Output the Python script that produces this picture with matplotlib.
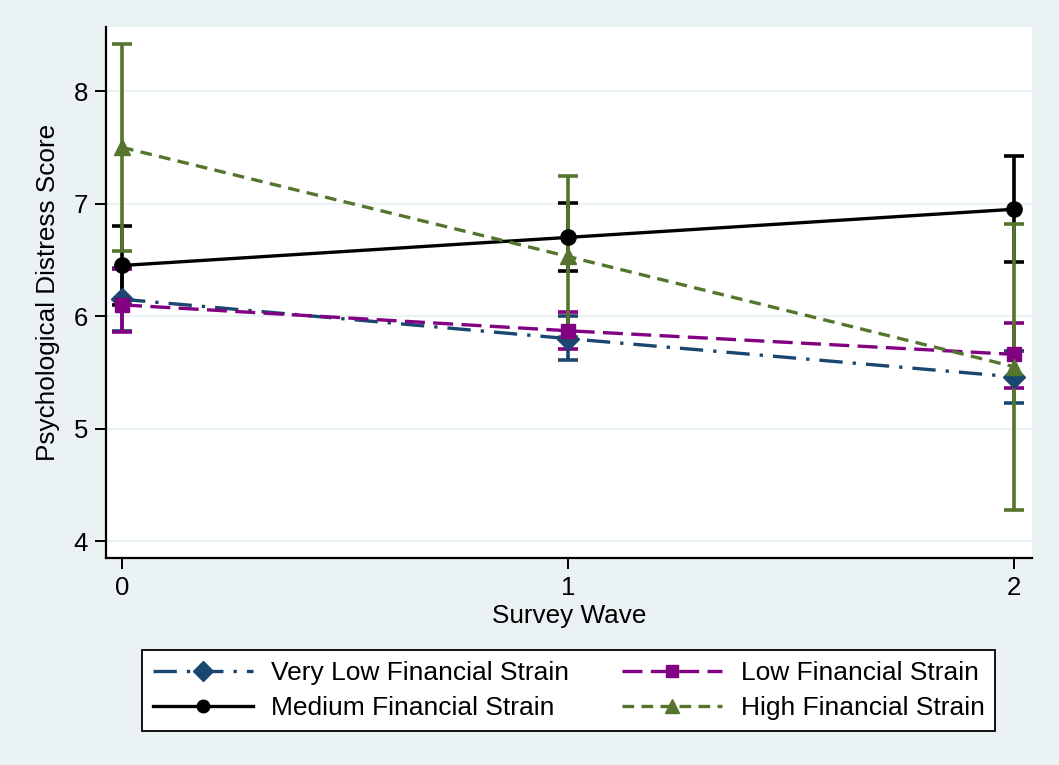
import matplotlib
matplotlib.use("Agg")
import matplotlib.pyplot as plt
from matplotlib.lines import Line2D
import numpy as np

plt.rcParams['font.family'] = ['Liberation Sans', 'DejaVu Sans']

waves = [0, 1, 2]

very_low = [6.15, 5.80, 5.46]
very_low_lo = [5.87, 5.61, 5.23]
very_low_hi = [6.43, 6.00, 5.69]

low = [6.10, 5.87, 5.66]
low_lo = [5.86, 5.71, 5.36]
low_hi = [6.42, 6.04, 5.94]

medium = [6.45, 6.70, 6.95]
medium_lo = [6.10, 6.40, 6.48]
medium_hi = [6.80, 7.01, 7.42]

high = [7.50, 6.53, 5.55]
high_lo = [6.58, 5.81, 4.28]
high_hi = [8.42, 7.25, 6.82]

labels = ["Very Low Financial Strain", "Low Financial Strain",
          "Medium Financial Strain", "High Financial Strain"]

bg = '#eaf2f3'
navy = '#1a476f'
purple = '#820082'
green = '#55752f'
black = '#000000'

fig = plt.figure(figsize=(10.59, 7.65), dpi=100, facecolor=bg)
ax = fig.add_axes([0.1001, 0.2706, 0.8744, 0.6941])
ax.set_facecolor('white')

series = [
    (very_low, very_low_lo, very_low_hi, navy, 'D', 11, (0, (7, 3, 1, 3))),
    (low, low_lo, low_hi, purple, 's', 10.5, (0, (6, 2.5))),
    (medium, medium_lo, medium_hi, black, 'o', 11, '-'),
    (high, high_lo, high_hi, green, '^', 12, (0, (3.5, 2.2))),
]

# confidence interval caps first
for vals, lo, hi, col, mk, ms, ls in series:
    yerr = [np.array(vals) - np.array(lo), np.array(hi) - np.array(vals)]
    ax.errorbar(waves, vals, yerr=yerr, fmt='none', ecolor=col,
                elinewidth=2.6, capsize=7, capthick=2.6, zorder=2)

# connecting lines
for vals, lo, hi, col, mk, ms, ls in series:
    ax.plot(waves, vals, color=col, lw=2.4, linestyle=ls, zorder=3)

# markers on top
for vals, lo, hi, col, mk, ms, ls in series:
    ax.plot(waves, vals, linestyle='none', marker=mk, ms=ms, color=col,
            markeredgecolor=col, zorder=4)

ax.set_xlim(-0.036, 2.04)
ax.set_ylim(3.85, 8.57)
ax.set_xticks(waves)
ax.set_yticks([4, 5, 6, 7, 8])
ax.yaxis.grid(True, color=bg, lw=1.6, zorder=0)
ax.set_axisbelow(True)
for s in ['top', 'right']:
    ax.spines[s].set_visible(False)
for s in ['left', 'bottom']:
    ax.spines[s].set_linewidth(1.6)
    ax.spines[s].set_color('black')
ax.tick_params(axis='both', labelsize=18.5, length=8, width=1.4, pad=5)

ax.set_xlabel("Survey Wave", fontsize=18.8, labelpad=2.5)
ax.set_ylabel("Psychological Distress Score", fontsize=18.8, labelpad=10)

handles = [
    Line2D([], [], color=navy, lw=2.4, linestyle=(0, (7, 3, 1, 3)), marker='D', ms=10),
    Line2D([], [], color=black, lw=2.4, linestyle='-', marker='o', ms=9),
    Line2D([], [], color=purple, lw=2.4, linestyle=(0, (6, 2.5)), marker='s', ms=9),
    Line2D([], [], color=green, lw=2.4, linestyle=(0, (3.5, 2.2)), marker='^', ms=10),
]
hl = [labels[0], labels[2], labels[1], labels[3]]
leg = fig.legend(handles, hl, ncol=2, loc='center',
                 bbox_to_anchor=(0.1341, 0.0420, 0.8055, 0.111), mode='expand',
                 borderaxespad=0,
                 fontsize=19, handlelength=3.8, frameon=True, fancybox=False,
                 edgecolor='black', framealpha=1, borderpad=0.4, labelspacing=0.43,
                 columnspacing=2.0, handletextpad=0.7)
leg.get_frame().set_linewidth(1.3)

fig.savefig("out.png", dpi=100, facecolor=bg)
